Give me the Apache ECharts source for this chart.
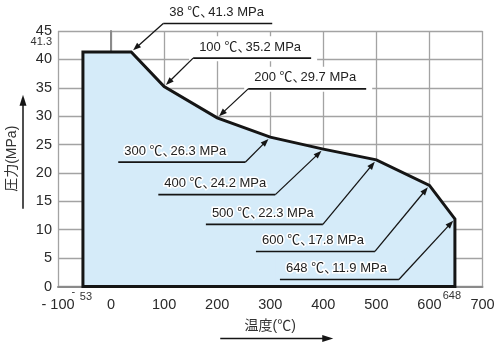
<!DOCTYPE html>
<html><head><meta charset="utf-8">
<script src="https://cdn.jsdelivr.net/npm/echarts@6/dist/echarts.min.js"></script>
<style>html,body{margin:0;padding:0;background:#fff}#c{width:500px;height:364px}</style>
</head><body><div id="c"></div>
<script>
// ---- data ----
const xTickValues = [-100, 0, 100, 200, 300, 400, 500, 600, 700];
const yTickValues = [0, 5, 10, 15, 20, 25, 30, 35, 40, 45];
const outlineTemp = [-53, -53, 38, 100, 200, 300, 400, 500, 600, 648, 648];
const outlinePress = [0, 41.3, 41.3, 35.2, 29.7, 26.3, 24.2, 22.3, 17.8, 11.9, 0];
const pointTemp = [38, 100, 200, 300, 400, 500, 600, 648];
const pointPress = [41.3, 35.2, 29.7, 26.3, 24.2, 22.3, 17.8, 11.9];
const extraXMarks = [-53, 648];
const extraYMarks = [41.3];
const xName = '温度(℃)';
const yName = '圧力(MPa)';

// ---- layout / style (pixels) ----
const FILL = '#d5ebf9';
const INK = '#151515';
const GRID = '#a3a3a3';
const calloutLayout = [
  {dx: 32, dy: -28.5, len: 109, side: 'right', bg: '#ffffff'},
  {dx: 29, dy: -28.5, len: 118, side: 'right', bg: '#ffffff'},
  {dx: 31, dy: -29, len: 118, side: 'right', bg: '#ffffff'},
  {dx: -25, dy: 25, len: 127, side: 'left', bg: FILL},
  {dx: -48, dy: 45.5, len: 117, side: 'left', bg: FILL},
  {dx: -53.5, dy: 64.5, len: 117, side: 'left', bg: FILL},
  {dx: -54.5, dy: 66, len: 119, side: 'left', bg: FILL},
  {dx: -56, dy: 60.5, len: 119, side: 'left', bg: FILL}
];
const FONT_FAMILY = '"Liberation Sans", "Noto Sans CJK JP", sans-serif';

const chart = echarts.init(document.getElementById('c'), null, {renderer: 'canvas'});

function renderOutline(params, api) {
  const pts = outlineTemp.map((t, i) => api.coord([t, outlinePress[i]]));
  return {
    type: 'polygon',
    shape: {points: pts},
    style: {fill: FILL, stroke: INK, lineWidth: 3, lineJoin: 'miter'}
  };
}

const labelSeg = {fontSize: 13, fontFamily: FONT_FAMILY, fill: '#222', stroke: '#fff', lineWidth: 3};

function renderCallout(params, api) {
  const i = params.dataIndex;
  const t = api.value(0), p = api.value(1);
  const pt = api.coord([t, p]);
  const L = calloutLayout[i];
  const sx = pt[0] + L.dx, sy = pt[1] + L.dy;
  const x0 = L.side === 'right' ? sx : sx - L.len;
  const x1 = x0 + L.len;
  const ang = Math.atan2(pt[1] - sy, pt[0] - sx);
  const c = Math.cos(ang), s = Math.sin(ang);
  const tipX = pt[0] - 2.5 * c, tipY = pt[1] - 2.5 * s;
  const hl = 8, hw = 3;
  const bx = tipX - hl * c, by = tipY - hl * s;
  const nx = -s, ny = c;
  const text = '{a|' + t + ' ℃}{b|、}{a|' + p + ' MPa}';
  return {
    type: 'group',
    children: [
      {type: 'rect', shape: {x: x0 - 4, y: sy - 22, width: L.len + 10, height: 25}, style: {fill: L.bg}},
      {type: 'line', shape: {x1: x0, y1: sy, x2: x1, y2: sy}, style: {stroke: INK, lineWidth: 1.6}},
      {type: 'line', shape: {x1: sx, y1: sy, x2: bx + 1 * c, y2: by + 1 * s}, style: {stroke: INK, lineWidth: 1.3}},
      {type: 'polygon', shape: {points: [[tipX, tipY], [bx + nx * hw, by + ny * hw], [bx - nx * hw, by - ny * hw]]}, style: {fill: INK}},
      {type: 'text', style: {text: text, x: x0 + 6, y: sy - 11, textAlign: 'left', textVerticalAlign: 'middle',
        font: '13px ' + FONT_FAMILY, fill: '#222', stroke: '#fff', lineWidth: 3,
        rich: {a: labelSeg, b: Object.assign({width: 8}, labelSeg)}}}
    ]
  };
}

const option = {
  animation: false,
  backgroundColor: '#fff',
  grid: {left: 58, right: 17.5, top: 31, bottom: 77.5, containLabel: false},
  xAxis: {
    type: 'value', min: xTickValues[0], max: xTickValues[xTickValues.length - 1], interval: 100,
    axisLine: {show: true, lineStyle: {color: '#8a8a8a', width: 2}},
    axisTick: {show: false},
    splitLine: {show: true, lineStyle: {color: GRID, width: 1.3}},
    axisLabel: {margin: 11, color: '#2a2a2a', fontSize: 14.5, fontFamily: FONT_FAMILY,
      formatter: v => v < 0 ? '- ' + Math.abs(v) : String(v)}
  },
  yAxis: {
    type: 'value', min: yTickValues[0], max: yTickValues[yTickValues.length - 1], interval: 5,
    axisLine: {show: true, lineStyle: {color: '#8a8a8a', width: 2}},
    axisTick: {show: false},
    splitLine: {show: true, lineStyle: {color: GRID, width: 1.3}},
    axisLabel: {margin: 6, color: '#2a2a2a', fontSize: 14.5, fontFamily: FONT_FAMILY}
  },
  series: [
    {type: 'custom', renderItem: renderOutline, data: [[0, 0]], z: 3, clip: false, silent: true},
    {type: 'custom', renderItem: renderCallout, data: pointTemp.map((t, i) => [t, pointPress[i]]), z: 4, clip: false, silent: true}
  ]
};
chart.setOption(option);

// extra annotations placed via the chart's own scales
const gx = chart.convertToPixel({gridIndex: 0}, [extraXMarks[0], 0]);
const gx2 = chart.convertToPixel({gridIndex: 0}, [extraXMarks[1], 0]);
const gy = chart.convertToPixel({gridIndex: 0}, [xTickValues[0], extraYMarks[0]]);
const x0px = chart.convertToPixel({gridIndex: 0}, [xTickValues[0], yTickValues[0]]);
const x1px = chart.convertToPixel({gridIndex: 0}, [xTickValues[xTickValues.length - 1], yTickValues[yTickValues.length - 1]]);
const cx = (x0px[0] + x1px[0]) / 2, cy = (x0px[1] + x1px[1]) / 2;
const small = '11px ' + FONT_FAMILY;
chart.setOption({
  graphic: [
    {type: 'text', x: gx[0] - 9.5, y: gx[1] + 5.5, style: {text: '-', font: small, fill: '#333', textAlign: 'center', textVerticalAlign: 'middle'}},
    {type: 'text', x: gx[0] + 3, y: gx[1] + 10, style: {text: String(Math.abs(extraXMarks[0])), font: small, fill: '#333', textAlign: 'center', textVerticalAlign: 'middle'}},
    {type: 'text', x: gx2[0] - 3, y: gx2[1] + 9.5, style: {text: String(extraXMarks[1]), font: small, fill: '#333', textAlign: 'center', textVerticalAlign: 'middle'}},
    {type: 'text', x: gy[0] - 6, y: gy[1] - 10, style: {text: String(extraYMarks[0]), font: small, fill: '#333', textAlign: 'right', textVerticalAlign: 'middle'}},
    // x axis name + arrow
    {type: 'text', x: cx, y: x0px[1] + 40, style: {text: xName, font: '14px ' + FONT_FAMILY, fill: '#333', textAlign: 'center', textVerticalAlign: 'middle'}},
    {type: 'line', shape: {x1: cx - 50, y1: x0px[1] + 52, x2: cx + 54, y2: x0px[1] + 52}, style: {stroke: INK, lineWidth: 1.5}},
    {type: 'polygon', shape: {points: [[cx + 63, x0px[1] + 52], [cx + 52, x0px[1] + 48.5], [cx + 52, x0px[1] + 55.5]]}, style: {fill: INK}},
    // y axis name + arrow
    {type: 'text', x: 12, y: cy, rotation: Math.PI / 2, style: {text: yName, font: '14px ' + FONT_FAMILY, fill: '#333', textAlign: 'center', textVerticalAlign: 'middle'}},
    {type: 'line', shape: {x1: 23, y1: cy + 50, x2: 23, y2: cy - 55}, style: {stroke: INK, lineWidth: 1.5}},
    {type: 'polygon', shape: {points: [[23, cy - 64], [19.5, cy - 53], [26.5, cy - 53]]}, style: {fill: INK}}
  ]
});
</script>
</body></html>
